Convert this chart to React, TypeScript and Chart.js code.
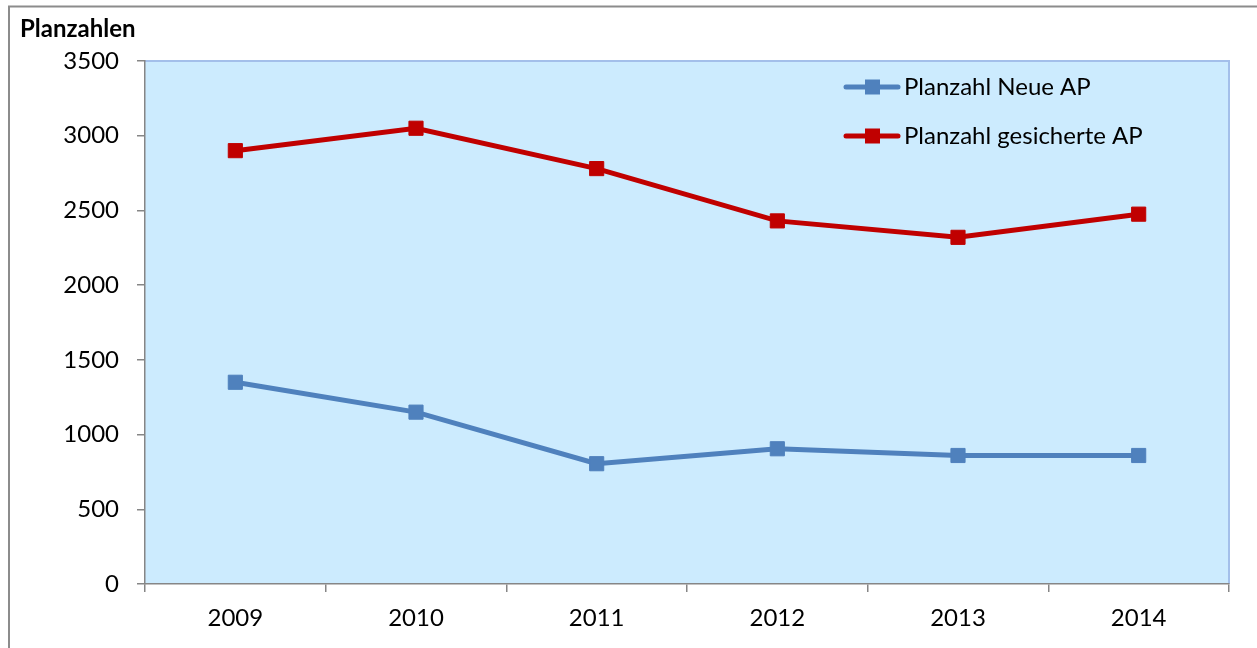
import React, { useEffect, useRef } from "react";
import { Chart, registerables } from "chart.js";

Chart.register(...registerables);

const years = ["2009", "2010", "2011", "2012", "2013", "2014"];
const neueAP = [1350, 1150, 805, 905, 860, 860];
const gesicherteAP = [2900, 3050, 2780, 2430, 2320, 2475];
const seriesNames = ["Planzahl Neue AP", "Planzahl gesicherte AP"];
const seriesColors = ["#4F81BD", "#C00000"];
const yMin = 0;
const yMax = 3500;
const yStep = 500;
const titleText = "Planzahlen";

const FONT = "Lato, 'Open Sans', sans-serif";

const decorPlugin = {
  id: "decor",
  beforeDraw(chart: any) {
    const { ctx, chartArea } = chart;
    ctx.save();
    ctx.strokeStyle = "#8C8C8C";
    ctx.lineWidth = 2;
    ctx.beginPath();
    ctx.moveTo(9, 648);
    ctx.lineTo(9, 6.5);
    ctx.lineTo(1257, 6.5);
    ctx.stroke();
    ctx.fillStyle = "#CCEBFE";
    ctx.fillRect(chartArea.left, chartArea.top, chartArea.right - chartArea.left, chartArea.bottom - chartArea.top);
    ctx.strokeStyle = "#A3BFEA";
    ctx.lineWidth = 2;
    ctx.beginPath();
    ctx.moveTo(chartArea.left, chartArea.top);
    ctx.lineTo(chartArea.right, chartArea.top);
    ctx.lineTo(chartArea.right, chartArea.bottom);
    ctx.stroke();
    ctx.fillStyle = "#000";
    ctx.font = "bold 24px " + FONT;
    ctx.textBaseline = "alphabetic";
    ctx.textAlign = "left";
    ctx.fillText(titleText, 20, 37);
    ctx.restore();
  },
  afterDraw(chart: any) {
    const { ctx } = chart;
    ctx.save();
    const rows = [87, 136];
    chart.data.datasets.forEach((ds: any, i: number) => {
      const y = rows[i];
      ctx.strokeStyle = ds.borderColor;
      ctx.lineWidth = 5;
      ctx.lineCap = "round";
      ctx.beginPath();
      ctx.moveTo(846, y);
      ctx.lineTo(898, y);
      ctx.stroke();
      ctx.fillStyle = ds.backgroundColor;
      ctx.fillRect(865, y - 7.5, 15, 15);
      ctx.fillStyle = "#000";
      ctx.font = "24px " + FONT;
      ctx.textBaseline = "middle";
      ctx.textAlign = "left";
      ctx.fillText(ds.label, 904, y);
    });
    ctx.restore();
  },
};

export default function App() {
  const ref = useRef<HTMLCanvasElement | null>(null);
  useEffect(() => {
    if (!ref.current) return;
    const mk = (label: string, data: number[], color: string) => ({
      label,
      data,
      borderColor: color,
      backgroundColor: color,
      borderWidth: 5,
      pointStyle: "rect" as const,
      pointRadius: 10,
      pointHoverRadius: 10,
      pointBorderWidth: 1,
      pointBackgroundColor: color,
      pointBorderColor: color,
      tension: 0,
    });
    const chart = new Chart(ref.current, {
      type: "line",
      data: {
        labels: years,
        datasets: [
          mk(seriesNames[0], neueAP, seriesColors[0]),
          mk(seriesNames[1], gesicherteAP, seriesColors[1]),
        ],
      },
      options: {
        animation: false,
        responsive: false,
        maintainAspectRatio: false,
        layout: { padding: { top: 61, right: 28, left: 0, bottom: 0 } },
        plugins: { legend: { display: false }, tooltip: { enabled: false }, title: { display: false } },
        scales: {
          x: {
            offset: true,
            grid: { offset: true, drawOnChartArea: false, drawTicks: true, tickLength: 8, color: "#868686", lineWidth: 1.5 },
            border: { display: true, color: "#868686", width: 1.5 },
            ticks: { color: "#000", font: { family: FONT, size: 24 }, padding: 12, maxRotation: 0 },
            afterFit: (s: any) => { s.height = 64; },
          },
          y: {
            min: yMin,
            max: yMax,
            grid: { drawOnChartArea: false, drawTicks: true, tickLength: 8, color: "#868686", lineWidth: 1.5 },
            border: { display: true, color: "#868686", width: 1.5 },
            ticks: {
              stepSize: yStep,
              color: "#000",
              font: { family: FONT, size: 24 },
              padding: 18,
              callback: (v: any) => String(v),
            },
            afterFit: (s: any) => { s.width = 145; },
          },
        },
      },
      plugins: [decorPlugin],
    });
    return () => chart.destroy();
  }, []);
  return (
    <div style={{ position: "fixed", left: 0, top: 0, width: 1257, height: 648, background: "#fff" }}>
      <canvas ref={ref} width={1257} height={648} style={{ display: "block" }} />
    </div>
  );
}
